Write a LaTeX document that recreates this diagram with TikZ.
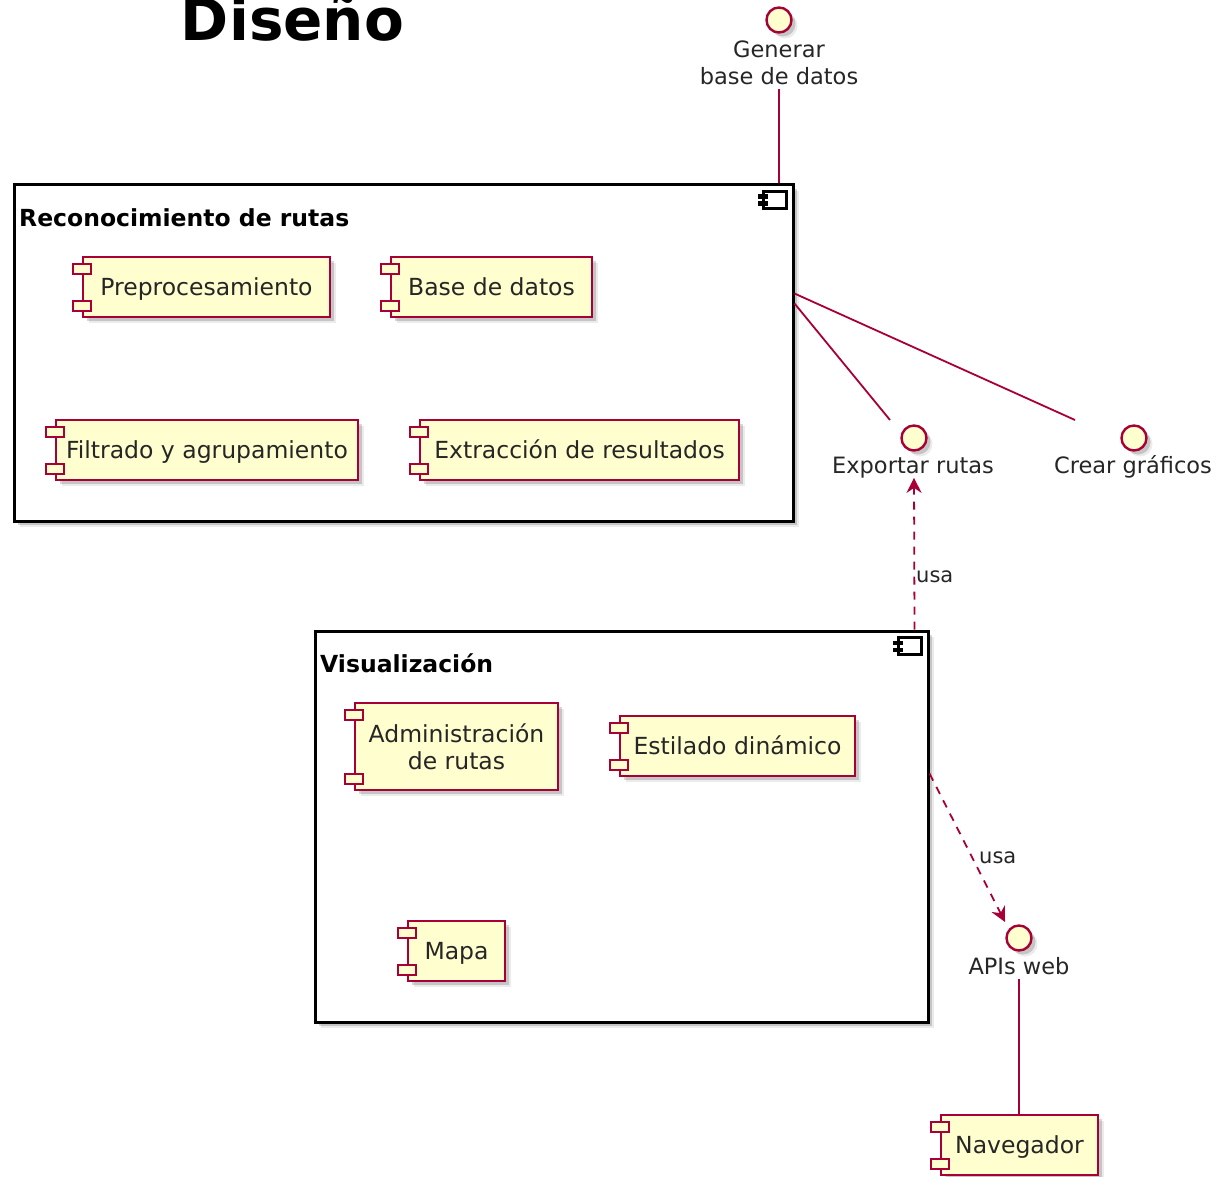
\documentclass[tikz,border=0pt]{standalone}
\usepackage{fontspec}
\setmainfont{DejaVu Sans}
\usetikzlibrary{shadows,arrows.meta,calc}
\definecolor{pred}{HTML}{A80036}
\definecolor{pfill}{HTML}{FEFECE}
\tikzset{
  pshadow/.style={drop shadow={shadow xshift=6pt,shadow yshift=-6pt,fill=black,opacity=0.08},
                  drop shadow={shadow xshift=4pt,shadow yshift=-4pt,fill=black,opacity=0.16}},
  txt/.style={font=\fontsize{22.5}{27}\selectfont,text=black!85,inner sep=0pt},
  ctxt/.style={font=\fontsize{23.5}{27}\selectfont,text=black!85,inner sep=0pt},
  comp/.style={draw=pred,fill=pfill,line width=1.8pt,inner sep=0pt,pshadow,ctxt,text height=17.1pt,text depth=0pt},
  comp2/.style={draw=pred,fill=pfill,line width=1.8pt,inner sep=0pt,pshadow,ctxt,align=center},
  tabst/.style={draw=pred,fill=pfill,line width=1.8pt},
  pkg/.style={draw=black,fill=white,line width=3pt,inner sep=0pt,pshadow},
  pkgtitle/.style={font=\fontsize{23.5}{27}\selectfont\bfseries,inner sep=0pt,anchor=base west},
  iface/.style={circle,draw=pred,fill=pfill,line width=2.4pt,minimum size=25pt,inner sep=0pt,pshadow},
  ilabel/.style={txt,align=center},
  conn/.style={draw=pred,line width=1.8pt},
  dconn/.style={draw=pred,line width=1.8pt,dash pattern=on 8pt off 7pt,-{Stealth[length=15pt,width=15pt,inset=5pt]}},
  usalabel/.style={font=\fontsize{21}{25}\selectfont,text=black!85,inner sep=0pt,anchor=base west},
}
\newcommand\comptabs[1]{%
  \draw[tabst] ([xshift=-9pt,yshift=-8pt]#1.north west) rectangle ++(18pt,-10pt);
  \draw[tabst] ([xshift=-9pt,yshift=7pt]#1.south west) rectangle ++(18pt,10pt);}
\newcommand\pkgicon[1]{%
  \draw[black,line width=2.4pt] ($(#1.north east)+(-31,8)$) rectangle ($(#1.north east)+(-8,25)$);
  \fill[black] ($(#1.north east)+(-37,11)$) rectangle ($(#1.north east)+(-27,15.5)$);
  \fill[black] ($(#1.north east)+(-37,18)$) rectangle ($(#1.north east)+(-27,22.5)$);}
\begin{document}
\begin{tikzpicture}[x=1pt,y=-1pt]
\useasboundingbox[fill=white] (0,0) rectangle (1231,1177);

% title
\node[font=\fontsize{58}{60}\selectfont\bfseries,inner sep=0pt,anchor=base] (title) at (292.5,41) {Diseño};

% packages
\node[pkg,minimum width=779pt,minimum height=336pt] (pkg1) at (403.5,353) {};
\pkgicon{pkg1}
\node[pkgtitle] (pkg1t) at (19,226) {Reconocimiento de rutas};

\node[pkg,minimum width=613pt,minimum height=391pt] (pkg2) at (621.5,826.5) {};
\pkgicon{pkg2}
\node[pkgtitle] (pkg2t) at (320,672) {Visualización};

% components
\node[comp,minimum width=247pt,minimum height=60pt] (pre) at (206.5,287) {Preprocesamiento};
\comptabs{pre}
\node[comp,minimum width=201pt,minimum height=60pt] (bd) at (491.5,287) {Base de datos};
\comptabs{bd}
\node[comp,minimum width=302pt,minimum height=60pt] (fil) at (207,450) {Filtrado y agrupamiento};
\comptabs{fil}
\node[comp,minimum width=319pt,minimum height=60pt] (ext) at (579.5,450) {Extracción de resultados};
\comptabs{ext}
\node[comp2,minimum width=203pt,minimum height=87pt] (adm) at (456.5,746.5) {Administración\\de rutas};
\comptabs{adm}
\node[comp,minimum width=235pt,minimum height=60pt] (est) at (737.5,746) {Estilado dinámico};
\comptabs{est}
\node[comp,minimum width=97pt,minimum height=60pt] (map) at (456.5,951) {Mapa};
\comptabs{map}
\node[comp,minimum width=157pt,minimum height=60pt] (nav) at (1019.5,1145) {Navegador};
\comptabs{nav}

% interfaces
\node[iface] (gen) at (779,20) {};
\node[ilabel,anchor=north] (genl) at (779,40.6) {Generar\\base de datos};
\node[iface] (exp) at (914,438) {};
\node[txt,anchor=base] (expl) at (913,473) {Exportar rutas};
\node[iface] (cre) at (1134,438) {};
\node[txt,anchor=base] (crel) at (1133,473) {Crear gráficos};
\node[iface] (api) at (1019,938) {};
\node[txt,anchor=base] (apil) at (1019,974) {APIs web};

% connectors
\draw[conn] ($(genl.south)+(0,4)$) -- (genl.south |- pkg1.north);
\draw[conn] ($(pkg1.north east)+(0,120)$) -- ($(exp.center)+(-24,-18)$);
\draw[conn] ($(pkg1.north east)+(0,110)$) -- ($(cre.center)+(-59,-18)$);
\draw[dconn] ($(pkg2.north east)+(-15,0)$) -- (expl.south -| exp.center);
\node[usalabel] (usa1) at (916,582) {usa};
\draw[dconn] ($(pkg2.north east)+(0,144)$) -- ($(api.center)+(-14,-16)$);
\node[usalabel] (usa2) at (979,863) {usa};
\draw[conn] ($(apil.south)+(0,4)$) -- (nav.north -| apil.south);
\end{tikzpicture}
\end{document}
